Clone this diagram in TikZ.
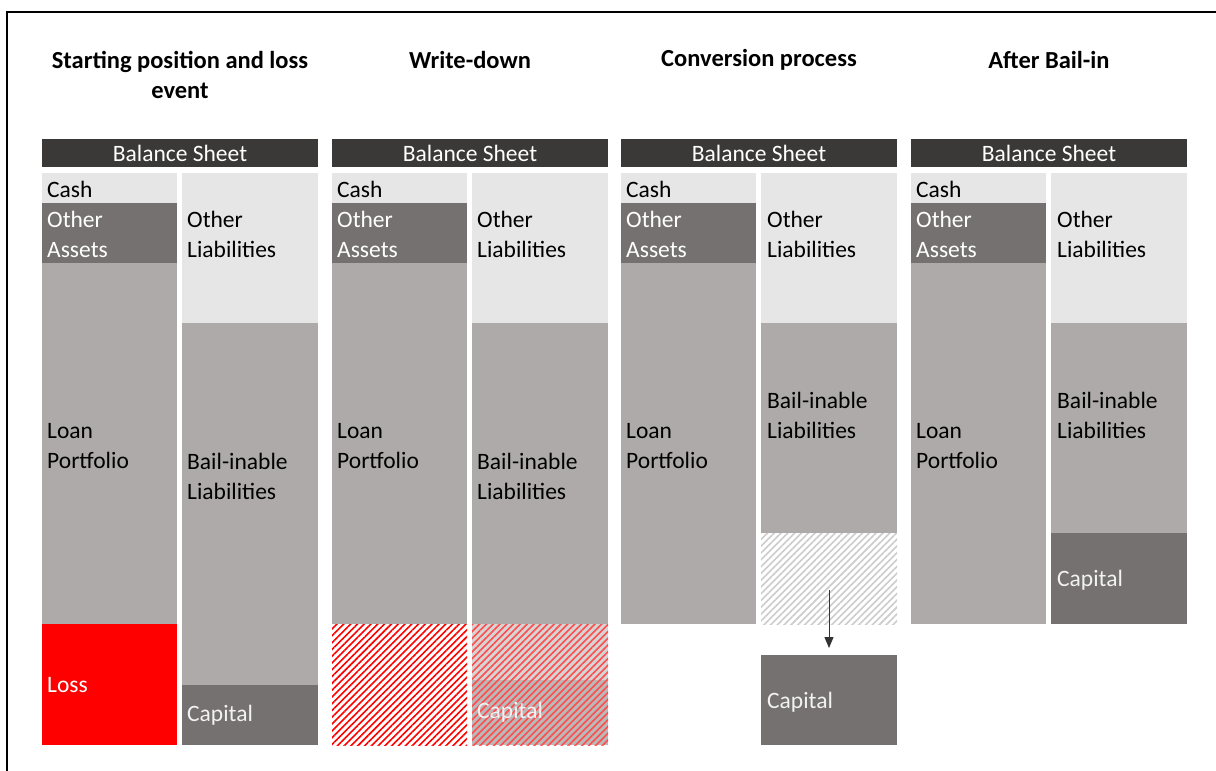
\documentclass[tikz,border=0pt]{standalone}
\usepackage{fontspec}
\setmainfont{Carlito}
\usetikzlibrary{patterns.meta,arrows.meta}
\definecolor{hdgray}{HTML}{3B3838}
\definecolor{dkgray}{HTML}{767171}
\definecolor{mdgray}{HTML}{AEAAAA}
\definecolor{ltgray}{HTML}{E7E6E6}
\definecolor{hatchgray}{HTML}{CDCBCB}
\definecolor{capwhite}{HTML}{F2F2F2}
\begin{document}
\begin{tikzpicture}[x=1pt, y=-1pt, >={Triangle[length=11pt,width=9pt]}]
\tikzstyle{blk}=[rectangle, anchor=north west, inner sep=0pt, outer sep=0pt]
\tikzstyle{lcol}=[blk, minimum width=135pt]
\tikzstyle{rcol}=[blk, minimum width=136pt]
\tikzstyle{hdr}=[blk, fill=hdgray, minimum width=276pt, minimum height=28pt, text=white, font=\fontsize{23.5}{30}\selectfont]
\tikzstyle{lbl}=[anchor=west, inner sep=0pt, align=left, font=\fontsize{23.5}{30}\selectfont]
\tikzstyle{ttl}=[align=center, font=\bfseries\fontsize{24.5}{30}\selectfont]
\tikzstyle{redhatch}=[pattern={Lines[angle=45,distance=4.8pt,line width=1.6pt]}, pattern color=red]
\useasboundingbox (0,0) rectangle (1216,771);
\draw[line width=2pt] (7,771) -- (7,12) -- (1216,12);
% starting position
\node[ttl] (t1) at (180,75) {Starting position and loss\\event};
\node[hdr] (h1) at (42,139) {Balance Sheet};
\node[lcol, fill=ltgray, minimum height=30pt] (c1) at (42,173) {};
\node[lcol, fill=dkgray, minimum height=60pt] (oa1) at (42,203) {};
\node[lcol, fill=mdgray, minimum height=361pt] (lp1) at (42,263) {};
\node[lcol, fill=red, minimum height=121pt] (ls1) at (42,624) {};
\node[rcol, fill=ltgray, minimum height=150pt] (ol1) at (182,173) {};
\node[rcol, fill=mdgray, minimum height=362pt] (bl1) at (182,323) {};
\node[rcol, fill=dkgray, minimum height=60pt] (cp1) at (182,685) {};
\node[lbl] (c1t) at (47,189) {Cash};
\node[lbl, text=white] (oa1t) at (47,234) {Other\\Assets};
\node[lbl] (lp1t) at (47,446) {Loan\\Portfolio};
\node[lbl, text=white] (ls1t) at (47,685) {Loss};
\node[lbl] (ol1t) at (187,234) {Other\\Liabilities};
\node[lbl] (bl1t) at (187,476) {Bail-inable\\Liabilities};
\node[lbl, text=capwhite] (cp1t) at (187,715) {Capital};
% write-down
\node[ttl] (t2) at (470,60) {Write-down};
\node[hdr] (h2) at (332,139) {Balance Sheet};
\node[lcol, fill=ltgray, minimum height=30pt] (c2) at (332,173) {};
\node[lcol, fill=dkgray, minimum height=60pt] (oa2) at (332,203) {};
\node[lcol, fill=mdgray, minimum height=361pt] (lp2) at (332,263) {};
\node[lcol, redhatch, minimum height=121pt] (ls2) at (332,624) {};
\node[rcol, fill=ltgray, minimum height=150pt] (ol2) at (472,173) {};
\node[rcol, fill=mdgray, minimum height=301pt] (bl2) at (472,323) {};
\node[rcol, fill=mdgray!50, minimum height=56pt, postaction={redhatch, pattern color=red!70}] (bx2) at (472,624) {};
\node[rcol, fill=dkgray!50, minimum height=65pt, postaction={redhatch, pattern color=red!70}] (cp2) at (472,680) {};
\node[lbl] (c2t) at (337,189) {Cash};
\node[lbl, text=white] (oa2t) at (337,234) {Other\\Assets};
\node[lbl] (lp2t) at (337,446) {Loan\\Portfolio};
\node[lbl] (ol2t) at (477,234) {Other\\Liabilities};
\node[lbl] (bl2t) at (477,476) {Bail-inable\\Liabilities};
\node[lbl, text=capwhite] (cp2t) at (477,712) {Capital};
% conversion
\node[ttl] (t3) at (759,60) {Conversion process};
\node[hdr] (h3) at (621,139) {Balance Sheet};
\node[lcol, fill=ltgray, minimum height=30pt] (c3) at (621,173) {};
\node[lcol, fill=dkgray, minimum height=60pt] (oa3) at (621,203) {};
\node[lcol, fill=mdgray, minimum height=361pt] (lp3) at (621,263) {};
\node[rcol, fill=ltgray, minimum height=150pt] (ol3) at (761,173) {};
\node[rcol, fill=mdgray, minimum height=210pt] (bl3) at (761,323) {};
\node[rcol, pattern={Lines[angle=45,distance=4.8pt,line width=1.6pt]}, pattern color=hatchgray, minimum height=91pt] (hx3) at (761,533) {};
\node[rcol, fill=dkgray, minimum height=90pt] (cp3) at (761,655) {};
\node[lbl] (c3t) at (626,189) {Cash};
\node[lbl, text=white] (oa3t) at (626,234) {Other\\Assets};
\node[lbl] (lp3t) at (626,446) {Loan\\Portfolio};
\node[lbl] (ol3t) at (767,234) {Other\\Liabilities};
\node[lbl] (bl3t) at (767,415) {Bail-inable\\Liabilities};
\node[lbl, text=capwhite] (cp3t) at (767,702) {Capital};
\coordinate (a3) at (829,590);
\draw[->, draw=black!80, line width=1pt, shorten >=7pt] (a3) -- (cp3.north);
% after bail-in
\node[ttl] (t4) at (1049,60) {After Bail-in};
\node[hdr] (h4) at (911,139) {Balance Sheet};
\node[lcol, fill=ltgray, minimum height=30pt] (c4) at (911,173) {};
\node[lcol, fill=dkgray, minimum height=60pt] (oa4) at (911,203) {};
\node[lcol, fill=mdgray, minimum height=361pt] (lp4) at (911,263) {};
\node[rcol, fill=ltgray, minimum height=150pt] (ol4) at (1051,173) {};
\node[rcol, fill=mdgray, minimum height=210pt] (bl4) at (1051,323) {};
\node[rcol, fill=dkgray, minimum height=91pt] (cp4) at (1051,533) {};
\node[lbl] (c4t) at (916,189) {Cash};
\node[lbl, text=white] (oa4t) at (916,234) {Other\\Assets};
\node[lbl] (lp4t) at (916,446) {Loan\\Portfolio};
\node[lbl] (ol4t) at (1057,234) {Other\\Liabilities};
\node[lbl] (bl4t) at (1057,415) {Bail-inable\\Liabilities};
\node[lbl, text=capwhite] (cp4t) at (1057,580) {Capital};
\end{tikzpicture}
\end{document}
